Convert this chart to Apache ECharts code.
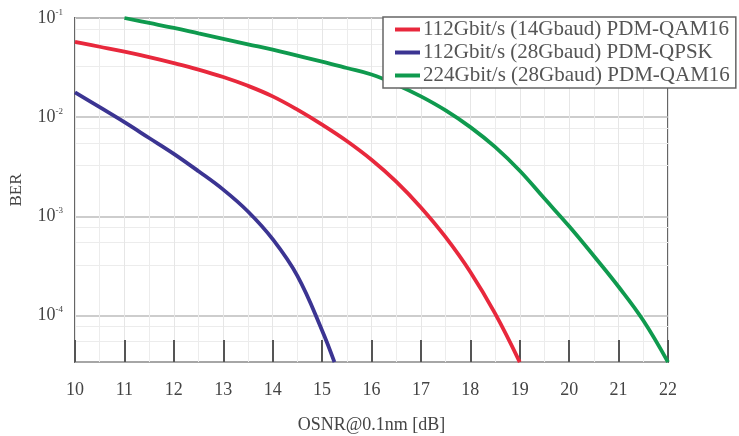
<!DOCTYPE html>
<html>
<head>
<meta charset="utf-8">
<script src="https://cdn.jsdelivr.net/npm/echarts@6/dist/echarts.min.js"></script>
<style>html,body{margin:0;padding:0;background:#fff}#c{width:739px;height:436px}</style>
</head>
<body>
<div id="c"></div>
<script>
// Data (OSNR in dB, BER)
const seriesNames = [
  '112Gbit/s (14Gbaud) PDM-QAM16',
  '112Gbit/s (28Gbaud) PDM-QPSK',
  '224Gbit/s (28Gbaud) PDM-QAM16'
];
const redOSNR   = [10, 10.5, 11, 11.5, 12, 12.5, 13, 13.5, 14, 14.5, 15, 15.5, 16, 16.5, 17, 17.5, 18, 18.5, 19];
const redBER    = [0.0575, 0.0513, 0.0457, 0.0403, 0.0351, 0.0302, 0.0254, 0.0207, 0.0162, 0.0119, 0.00841, 0.00575, 0.00372, 0.00224, 0.00123, 0.000617, 0.000275, 0.000105, 0.0000339];
const blueOSNR  = [10, 10.5, 11, 11.5, 12, 12.5, 13, 13.5, 14, 14.5, 15, 15.25];
const blueBER   = [0.0178, 0.0126, 0.0089, 0.00617, 0.00427, 0.00285, 0.00186, 0.00112, 0.000589, 0.000251, 0.0000708, 0.0000339];
const greenOSNR = [11, 11.5, 12, 12.5, 13, 13.5, 14, 14.5, 15, 15.5, 16, 16.5, 17, 17.5, 18, 18.5, 19, 19.5, 20, 20.5, 21, 21.5, 22];
const greenBER  = [0.1, 0.0891, 0.0794, 0.0700, 0.0617, 0.0543, 0.0479, 0.0417, 0.0363, 0.0313, 0.0269, 0.0214, 0.0162, 0.0117, 0.00794, 0.00501, 0.00288, 0.00151, 0.000794, 0.000398, 0.000195, 0.0000891, 0.0000339];
const xTicks = [10, 11, 12, 13, 14, 15, 16, 17, 18, 19, 20, 21, 22];

const pair = (xs, ys) => xs.map((x, i) => [x, ys[i]]);
const FONT = '"Liberation Serif", "DejaVu Serif", serif';
const TXT = '#444';

const chart = echarts.init(document.getElementById('c'), null, {renderer: 'canvas'});
chart.setOption({
  animation: false,
  backgroundColor: '#fff',
  grid: {left: 75, right: 71, top: 18, bottom: 74, containLabel: false, outerBoundsMode: 'none', show: true, borderColor: '#666', borderWidth: 2, backgroundColor: 'transparent'},
  legend: {
    orient: 'vertical', left: 383, top: 17,
    backgroundColor: '#fff', borderColor: '#666', borderWidth: 1.5,
    padding: [2, 6, 2, 12], itemGap: 2,
    itemWidth: 25, itemHeight: 4, icon: 'rect',
    textStyle: {fontFamily: FONT, fontSize: 21, color: '#555', padding: [0, 0, 0, -2]},
    data: seriesNames
  },
  xAxis: {
    type: 'value', min: xTicks[0], max: xTicks[xTicks.length - 1], interval: 1,
    name: 'OSNR@0.1nm [dB]', nameLocation: 'middle', nameGap: 54,
    nameTextStyle: {fontFamily: FONT, fontSize: 18, color: TXT},
    axisLine: {show: false},
    axisTick: {show: true, inside: true, length: 22, lineStyle: {color: '#555', width: 2}},
    axisLabel: {fontFamily: FONT, fontSize: 18, color: TXT, margin: 19},
    splitLine: {show: true, lineStyle: {color: '#e6e6e6', width: 1}},
    minorTick: {show: false, splitNumber: 2},
    minorSplitLine: {show: true, lineStyle: {color: '#ececec', width: 1}}
  },
  yAxis: {
    type: 'log', logBase: 10, min: 0.000034, max: 0.1,
    name: 'BER', nameLocation: 'middle', nameGap: 50,
    nameTextStyle: {fontFamily: FONT, fontSize: 17, color: TXT},
    axisLine: {show: false},
    axisTick: {show: false},
    axisLabel: {
      showMinLabel: false,
      fontFamily: FONT, color: TXT, margin: 12,
      formatter: function (v) {
        const e = Math.log10(v);
        if (Math.abs(e - Math.round(e)) > 0.01) return '';
        return '{b|10}{s|' + Math.round(e) + '}';
      },
      rich: {
        b: {fontFamily: FONT, fontSize: 18, color: TXT, lineHeight: 20},
        s: {fontFamily: FONT, fontSize: 9, color: TXT, verticalAlign: 'top', lineHeight: 20, padding: [0, 0, 8, 0]}
      }
    },
    splitLine: {show: true, lineStyle: {color: '#bdbdbd', width: 1.5}},
    minorTick: {show: false, splitNumber: 4},
    minorSplitLine: {show: true, lineStyle: {color: '#ececec', width: 1}}
  },
  series: [
    {name: seriesNames[0], type: 'line', data: pair(redOSNR, redBER), smooth: 0.4, showSymbol: false, symbol: 'none', lineStyle: {color: '#e8283c', width: 3.8}, itemStyle: {color: '#e8283c'}},
    {name: seriesNames[1], type: 'line', data: pair(blueOSNR, blueBER), smooth: 0.4, showSymbol: false, symbol: 'none', lineStyle: {color: '#3b3492', width: 3.8}, itemStyle: {color: '#3b3492'}},
    {name: seriesNames[2], type: 'line', data: pair(greenOSNR, greenBER), smooth: 0.4, showSymbol: false, symbol: 'none', lineStyle: {color: '#0f9a4e', width: 3.8}, itemStyle: {color: '#0f9a4e'}}
  ]
});
</script>
</body>
</html>
